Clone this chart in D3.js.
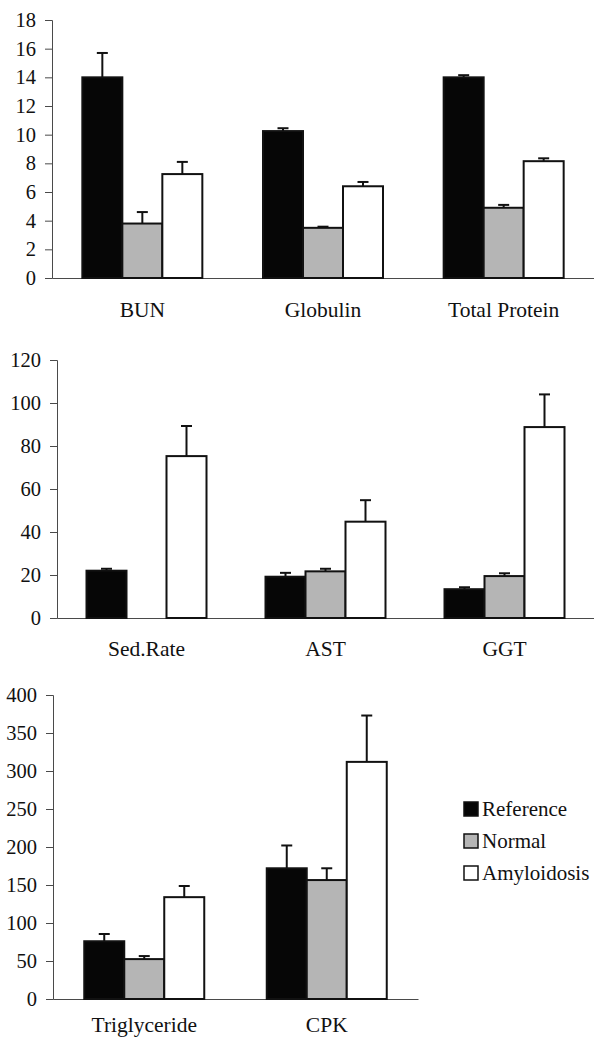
<!DOCTYPE html>
<html>
<head>
<meta charset="utf-8">
<script src="https://cdn.jsdelivr.net/npm/d3@7"></script>
<style>
  html, body { margin: 0; padding: 0; background: #fff; }
  svg { display: block; }
  text { font-family: "Liberation Serif", "Times New Roman", serif; fill: #111; }
</style>
</head>
<body>
<svg id="chart" width="594" height="1038"></svg>
<script>
// ---- data ----
const seriesNames = ["Reference", "Normal", "Amyloidosis"];
const seriesFills = ["#060606", "#b5b5b5", "#ffffff"];

const p1Categories = ["BUN", "Globulin", "Total Protein"];
const p1Reference = [14.0, 10.25, 14.0];
const p1ReferenceErr = [1.7, 0.2, 0.15];
const p1Normal = [3.8, 3.5, 4.9];
const p1NormalErr = [0.8, 0.08, 0.2];
const p1Amyloidosis = [7.25, 6.4, 8.15];
const p1AmyloidosisErr = [0.85, 0.3, 0.2];
const p1Ticks = [0, 2, 4, 6, 8, 10, 12, 14, 16, 18];

const p2Categories = ["Sed.Rate", "AST", "GGT"];
const p2Reference = [22.0, 19.2, 13.4];
const p2ReferenceErr = [0.9, 1.8, 0.9];
const p2Normal = [null, 21.7, 19.5];
const p2NormalErr = [null, 1.2, 1.3];
const p2Amyloidosis = [75.3, 44.8, 88.8];
const p2AmyloidosisErr = [14.0, 10.0, 15.2];
const p2Ticks = [0, 20, 40, 60, 80, 100, 120];

const p3Categories = ["Triglyceride", "CPK"];
const p3Reference = [76, 172];
const p3ReferenceErr = [9.5, 30];
const p3Normal = [52.5, 156.5];
const p3NormalErr = [4, 15.5];
const p3Amyloidosis = [134, 312];
const p3AmyloidosisErr = [14.7, 61];
const p3Ticks = [0, 50, 100, 150, 200, 250, 300, 350, 400];

// ---- layout ----
const panels = [
  { cats: p1Categories, vals: [p1Reference, p1Normal, p1Amyloidosis],
    errs: [p1ReferenceErr, p1NormalErr, p1AmyloidosisErr], ticks: p1Ticks,
    x0: 52, x1: 594, yTop: 20, yBot: 278, labelOff: 39 },
  { cats: p2Categories, vals: [p2Reference, p2Normal, p2Amyloidosis],
    errs: [p2ReferenceErr, p2NormalErr, p2AmyloidosisErr], ticks: p2Ticks,
    x0: 57, x1: 594, yTop: 360, yBot: 618, labelOff: 38 },
  { cats: p3Categories, vals: [p3Reference, p3Normal, p3Amyloidosis],
    errs: [p3ReferenceErr, p3NormalErr, p3AmyloidosisErr], ticks: p3Ticks,
    x0: 53, x1: 418, yTop: 695, yBot: 999, labelOff: 33 }
];

const svg = d3.select("#chart");
const axisColor = "#4a4a4a";

panels.forEach(p => {
  const g = svg.append("g");
  const x = d3.scaleBand().domain(p.cats).range([p.x0, p.x1]);
  const inner = d3.scaleBand().domain(seriesNames).range([-60, 60]);
  const y = d3.scaleLinear()
    .domain([0, d3.max(p.ticks)])
    .range([p.yBot, p.yTop]);

  // y axis
  const yAxis = d3.axisLeft(y).tickValues(p.ticks).tickSize(7).tickPadding(9).tickFormat(d3.format("d"));
  const ya = g.append("g").attr("transform", `translate(${p.x0},0)`).call(yAxis);
  ya.select(".domain").attr("stroke", axisColor).attr("stroke-width", 1);
  ya.selectAll(".tick line").attr("stroke", axisColor);
  ya.selectAll(".tick text")
    .attr("font-family", "Liberation Serif, serif")
    .attr("font-size", 20.5)
    .attr("fill", "#111");

  // x axis
  const xAxis = d3.axisBottom(x).tickSize(0).tickPadding(p.labelOff);
  const xa = g.append("g").attr("transform", `translate(0,${p.yBot})`).call(xAxis);
  xa.select(".domain").attr("stroke", axisColor).attr("stroke-width", 1);
  xa.selectAll(".tick text")
    .attr("font-family", "Liberation Serif, serif")
    .attr("font-size", 21.5)
    .attr("fill", "#111")
    .attr("dy", 0);

  // bars
  seriesNames.forEach((s, si) => {
    const rows = p.cats.map((c, ci) => ({ c, v: p.vals[si][ci], e: p.errs[si][ci] }))
      .filter(d => d.v != null);
    const bx = d => x(d.c) + x.bandwidth() / 2 + inner(s);
    const bw = inner.bandwidth();

    // error bars (behind bars)
    g.selectAll(null).data(rows).enter().append("line")
      .attr("x1", d => bx(d) + bw / 2).attr("x2", d => bx(d) + bw / 2)
      .attr("y1", d => y(d.v)).attr("y2", d => y(d.v + d.e))
      .attr("stroke", "#111").attr("stroke-width", 2);
    g.selectAll(null).data(rows).enter().append("line")
      .attr("x1", d => bx(d) + bw / 2 - 5.5).attr("x2", d => bx(d) + bw / 2 + 5.5)
      .attr("y1", d => y(d.v + d.e)).attr("y2", d => y(d.v + d.e))
      .attr("stroke", "#111").attr("stroke-width", 2);

    g.selectAll(null).data(rows).enter().append("rect")
      .attr("x", d => bx(d))
      .attr("y", d => y(d.v))
      .attr("width", bw)
      .attr("height", d => y(0) - y(d.v))
      .attr("fill", seriesFills[si])
      .attr("stroke", "#111")
      .attr("stroke-width", 2);
  });
});

// legend
const legend = svg.append("g").attr("transform", "translate(463,802)");
seriesNames.forEach((s, i) => {
  const row = legend.append("g").attr("transform", `translate(0,${i * 32})`);
  row.append("rect").attr("x", 1).attr("y", 0).attr("width", 14).attr("height", 14)
    .attr("fill", seriesFills[i]).attr("stroke", "#111").attr("stroke-width", 1.5);
  row.append("text").attr("x", 19).attr("y", 14).attr("font-size", 21).text(s);
});
</script>
</body>
</html>
